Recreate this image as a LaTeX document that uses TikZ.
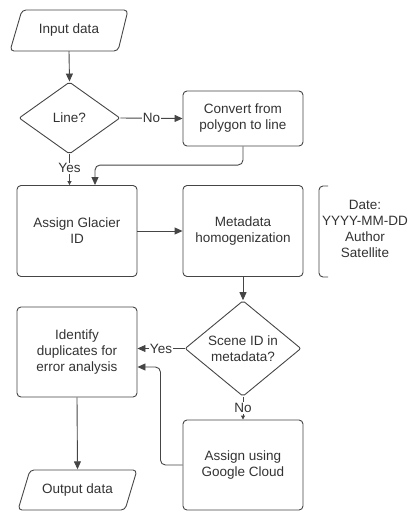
\documentclass[tikz,border=0pt]{standalone}
\usepackage{fontspec}
\setmainfont{Liberation Sans}
\usetikzlibrary{arrows.meta,shapes.geometric,calc}
\definecolor{ln}{HTML}{454545}
\definecolor{tx}{HTML}{333333}
\begin{document}
\begin{tikzpicture}[x=1pt,y=-1pt,
  every node/.style={text=tx,font=\fontsize{13.5}{16}\selectfont,align=center},
  box/.style={draw=ln,line width=0.9pt,rounded corners=4pt,minimum width=120pt,inner sep=0pt},
  dec/.style={draw=ln,line width=0.9pt,diamond,rounded corners=2pt,inner sep=0pt},
  io/.style={inner sep=0pt,minimum height=41pt,minimum width=100pt},
  arr/.style={draw=ln,line width=0.9pt,-{Triangle[length=8pt,width=7pt]}},
  sarr/.style={draw=ln,line width=0.9pt,-{Triangle[length=4pt,width=4pt]}},
  lab/.style={fill=white,inner sep=1pt}]
\useasboundingbox (0,0) rectangle (413,512);
% Input data
\node[io] (inp) at (69,30.5) {Input data};
\draw[ln,line width=0.9pt,rounded corners=4pt] (22,10) -- (128,10) -- (118,51) -- (10,51) -- cycle;
% Line? decision
\node[dec,minimum width=101pt,minimum height=72pt] (line) at (69.5,118) {Line?};
% Convert
\node[box,minimum height=55pt] (conv) at (243,118.5) {Convert from\\polygon to line};
% Assign glacier ID
\node[box,minimum height=91pt] (agl) at (77,231) {Assign Glacier\\ID};
% Metadata
\node[box,minimum height=91pt] (meta) at (243,231) {Metadata\\homogenization};
% Note
\node (note) at (365,229) {Date:\\YYYY-MM-DD\\Author\\Satellite};
\draw[ln,line width=0.9pt,rounded corners=4pt] (328,186) -- (319,186) -- (319,277) -- (328,277);
% Scene ID decision
\node[dec,minimum width=116pt,minimum height=87pt] (scene) at (243,348.5) {Scene ID in\\metadata?};
% Identify
\node[box,minimum height=90pt] (ident) at (77,352) {Identify\\duplicates for\\error analysis};
% Google cloud
\node[box,minimum height=90pt] (gc) at (243,465) {Assign using\\Google Cloud};
% Output data
\node[io] (out) at (77.5,490) {Output data};
\draw[ln,line width=0.9pt,rounded corners=4pt] (30,470) -- (137,470) -- (125,510) -- (18,510) -- cycle;
% connectors
\draw[arr] (inp.south) -- (line.north);
\draw[arr] (line.east) -- node[lab]{No} (conv.west);
\draw[sarr] (line.south) -- node[lab,pos=0.45]{Yes} (agl.north -| line.south);
\coordinate (k1) at ([xshift=18pt,yshift=20pt]agl.north);
\draw[arr,rounded corners=5pt] (conv.south) |- (k1) -- ([xshift=18pt]agl.north);
\draw[arr] (agl.east) -- (meta.west);
\draw[arr] (meta.south) -- (scene.north);
\draw[arr] (scene.west) -- node[lab]{Yes} (scene.west -| ident.east);
\draw[sarr] (scene.south) -- node[lab]{No} (gc.north);
\coordinate (c3) at ([yshift=-15pt]ident.east);
\coordinate (c2) at ([xshift=23pt]c3);
\draw[arr,rounded corners=5pt] (gc.west) -| (c2) -- (c3);
\draw[arr] (ident.south) -- (out.north);
\end{tikzpicture}
\end{document}
